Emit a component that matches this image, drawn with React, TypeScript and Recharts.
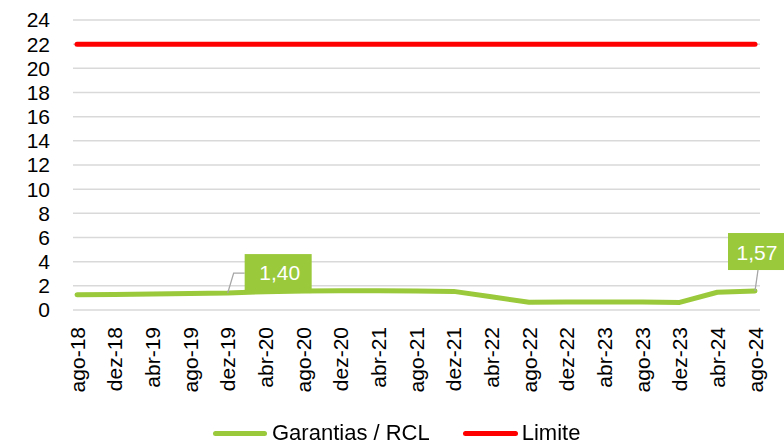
import React from "react";
import { LineChart, Line, XAxis, YAxis, CartesianGrid, Legend, LabelList } from "recharts";

const categories = [
  "ago-18", "dez-18", "abr-19", "ago-19", "dez-19", "abr-20", "ago-20", "dez-20", "abr-21",
  "ago-21", "dez-21", "abr-22", "ago-22", "dez-22", "abr-23", "ago-23", "dez-23", "abr-24", "ago-24",
];
const garantias = [1.27, 1.28, 1.32, 1.36, 1.40, 1.52, 1.58, 1.60, 1.60, 1.57, 1.54, 1.10, 0.64, 0.66, 0.66, 0.66, 0.63, 1.47, 1.57];
const limite = [22, 22, 22, 22, 22, 22, 22, 22, 22, 22, 22, 22, 22, 22, 22, 22, 22, 22, 22];
const yTicks = [0, 2, 4, 6, 8, 10, 12, 14, 16, 18, 20, 22, 24];
const labeledIndices = [4, 18];
const seriesNames = ["Garantias / RCL", "Limite"];

const GREEN = "#9AC93B";
const RED = "#FF0000";
const FONT = "'Liberation Sans', Arial, sans-serif";

const data = categories.map((c, i) => ({ cat: c, garantias: garantias[i], limite: limite[i] }));

const fmt = (v: number) => v.toFixed(2).replace(".", ",");

const XTick = (props: any) => {
  const { x, y, payload } = props;
  return (
    <g transform={`translate(${x},${y})`}>
      <text
        transform="rotate(-90)"
        textAnchor="end"
        dy="0.36em"
        fontSize={21}
        fontFamily={FONT}
        fill="#000"
      >
        {payload.value}
      </text>
    </g>
  );
};

const DataLabel = (props: any) => {
  const { x, y, index, value } = props;
  if (!labeledIndices.includes(index)) return null;
  if (index === 4) {
    const bx = x + 17;
    const by = y - 39;
    return (
      <g>
        <path d={`M${x},${y} L${x + 6},${y - 20} L${bx},${y - 20}`} stroke="#A6A6A6" strokeWidth={1.3} fill="none" />
        <rect x={bx} y={by} width={67} height={39} fill={GREEN} />
        <text x={bx + 35} y={by + 26} textAnchor="middle" fontSize={21} fontFamily={FONT} fill="#fff">
          {fmt(value)}
        </text>
      </g>
    );
  }
  const bx = x - 27;
  const by = y - 58;
  return (
    <g>
      <path d={`M${x},${y} L${x + 3},${y - 21}`} stroke="#A6A6A6" strokeWidth={1.3} fill="none" />
      <rect x={bx} y={by} width={60} height={37} fill={GREEN} />
      <text x={bx + 29} y={by + 27} textAnchor="middle" fontSize={21} fontFamily={FONT} fill="#fff">
        {fmt(value)}
      </text>
    </g>
  );
};

const LegendContent = () => (
  <div style={{ height: 32, position: "relative", fontFamily: FONT, fontSize: 22, color: "#000" }}>
    <div style={{ position: "absolute", top: 7, left: 213, height: 26, display: "flex", alignItems: "center", whiteSpace: "nowrap" }}>
      <span style={{ display: "inline-block", width: 54, height: 5, borderRadius: 3, background: GREEN, marginRight: 5 }} />
      <span style={{ lineHeight: "26px" }}>{seriesNames[0]}</span>
      <span style={{ display: "inline-block", width: 55, height: 5, borderRadius: 3, background: RED, marginLeft: 33, marginRight: 4 }} />
      <span style={{ lineHeight: "26px" }}>{seriesNames[1]}</span>
    </div>
  </div>
);

export default function App() {
  return (
    <div style={{ position: "fixed", left: 0, top: 0, width: 784, height: 445, background: "#fff" }}>
      <LineChart width={784} height={445} data={data} margin={{ top: 20, right: 24, left: 0, bottom: 0 }}>
        <CartesianGrid vertical={false} stroke="#D9D9D9" strokeWidth={1.5} />
        <XAxis
          dataKey="cat"
          interval={0}
          axisLine={false}
          tickLine={false}
          tickSize={0}
          tickMargin={17}
          height={103}
          padding={{ left: 4, right: 5 }}
          tick={<XTick />}
        />
        <YAxis
          domain={[0, 24]}
          ticks={yTicks}
          interval={0}
          width={73}
          axisLine={false}
          tickLine={false}
          tickSize={0}
          tickMargin={23}
          tick={{ fontSize: 21, fontFamily: FONT, fill: "#000" }}
        />
        <Legend verticalAlign="bottom" wrapperStyle={{ left: 0, width: 784, height: 32 }} content={<LegendContent />} />
        <Line
          type="linear"
          dataKey="garantias"
          name={seriesNames[0]}
          stroke={GREEN}
          strokeWidth={5}
          strokeLinecap="round"
          strokeLinejoin="round"
          dot={false}
          isAnimationActive={false}
        >
          <LabelList dataKey="garantias" content={<DataLabel />} />
        </Line>
        <Line
          type="linear"
          dataKey="limite"
          name={seriesNames[1]}
          stroke={RED}
          strokeWidth={5}
          strokeLinecap="round"
          dot={false}
          isAnimationActive={false}
        />
      </LineChart>
    </div>
  );
}
